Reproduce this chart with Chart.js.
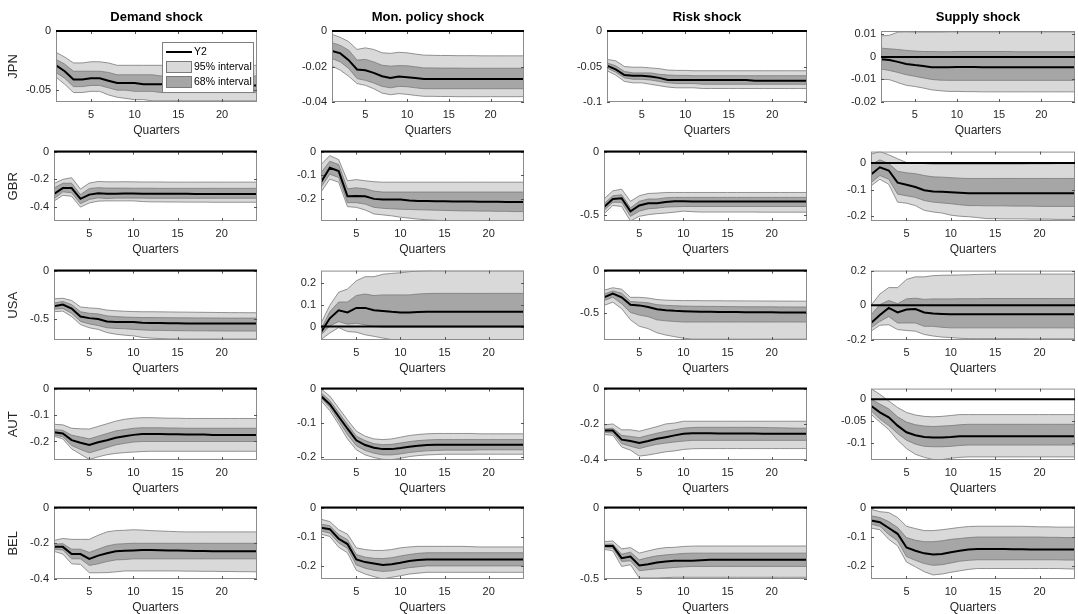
<!DOCTYPE html>
<html>
<head>
<meta charset="utf-8">
<title>Impulse responses of Y2</title>
<script src="https://cdn.jsdelivr.net/npm/chart.js"></script>
<style>
  body { margin: 0; padding: 0; background: #fff; width: 1078px; height: 614px; overflow: hidden; position: relative; }
  canvas { position: absolute; }
</style>
</head>
<body>
<script>
// ---- labels ----
const quarters = [1,2,3,4,5,6,7,8,9,10,11,12,13,14,15,16,17,18,19,20,21,22,23,24];
const xTicks = [5, 10, 15, 20];
const countries = ['JPN', 'GBR', 'USA', 'AUT', 'BEL'];
const shocks = ['Demand shock', 'Mon. policy shock', 'Risk shock', 'Supply shock'];
const legendLabels = ['Y2', '95% interval', '68% interval'];
const xTitle = 'Quarters';

// ---- axis limits and ticks (demand, mon. policy, risk, supply) ----
const JPN_ylim = [[-0.06, 0], [-0.04, 0], [-0.1, 0], [-0.02, 0.0115]];
const GBR_ylim = [[-0.5, 0], [-0.295, 0], [-0.55, 0], [-0.218, 0.043]];
const USA_ylim = [[-0.72, 0], [-0.062, 0.258], [-0.81, 0], [-0.2, 0.2]];
const AUT_ylim = [[-0.27, 0], [-0.21, 0], [-0.4, 0], [-0.138, 0.024]];
const BEL_ylim = [[-0.4, 0], [-0.245, 0], [-0.5, 0], [-0.245, 0]];

const JPN_yticks = [[-0.05, 0], [-0.04, -0.02, 0], [-0.1, -0.05, 0], [-0.02, -0.01, 0, 0.01]];
const GBR_yticks = [[-0.4, -0.2, 0], [-0.2, -0.1, 0], [-0.5, 0], [-0.2, -0.1, 0]];
const USA_yticks = [[-0.5, 0], [0, 0.1, 0.2], [-0.5, 0], [-0.2, 0, 0.2]];
const AUT_yticks = [[-0.2, -0.1, 0], [-0.2, -0.1, 0], [-0.4, -0.2, 0], [-0.1, -0.05, 0]];
const BEL_yticks = [[-0.4, -0.2, 0], [-0.2, -0.1, 0], [-0.5, 0], [-0.2, -0.1, 0]];

// ---- JPN ----
const JPN_dem_med  = [-0.029,-0.034,-0.041,-0.041,-0.040,-0.040, -0.042,-0.044,-0.044,-0.044,-0.045,-0.045, -0.045,-0.045,-0.045,-0.045,-0.045,-0.045, -0.046,-0.046,-0.046,-0.046,-0.046,-0.046];
const JPN_dem_hi95 = [-0.018,-0.022,-0.027,-0.027,-0.026,-0.026, -0.027,-0.029,-0.029,-0.029,-0.029,-0.029, -0.029,-0.029,-0.029,-0.029,-0.029,-0.029, -0.029,-0.029,-0.029,-0.029,-0.029,-0.029];
const JPN_dem_hi68 = [-0.024,-0.028,-0.034,-0.034,-0.034,-0.034, -0.035,-0.037,-0.037,-0.037,-0.037,-0.037, -0.038,-0.038,-0.038,-0.038,-0.038,-0.038, -0.038,-0.038,-0.038,-0.038,-0.038,-0.038];
const JPN_dem_lo68 = [-0.035,-0.040,-0.047,-0.047,-0.046,-0.046, -0.048,-0.050,-0.050,-0.051,-0.051,-0.051, -0.052,-0.052,-0.052,-0.052,-0.052,-0.052, -0.052,-0.052,-0.052,-0.052,-0.052,-0.052];
const JPN_dem_lo95 = [-0.039,-0.045,-0.052,-0.052,-0.051,-0.051, -0.054,-0.056,-0.057,-0.058,-0.058,-0.059, -0.059,-0.059,-0.059,-0.059,-0.059,-0.059, -0.059,-0.059,-0.059,-0.059,-0.059,-0.059];

const JPN_mon_med  = [-0.0112,-0.0126,-0.0164,-0.0217,-0.0221,-0.0236, -0.0255,-0.0265,-0.0257,-0.0260,-0.0265,-0.0270, -0.0270,-0.0270,-0.0270,-0.0270,-0.0270,-0.0270, -0.0270,-0.0270,-0.0270,-0.0270,-0.0270,-0.0270];
const JPN_mon_hi95 = [-0.0019,-0.0036,-0.0060,-0.0104,-0.0095,-0.0104, -0.0123,-0.0126,-0.0120,-0.0123,-0.0130,-0.0136, -0.0137,-0.0138,-0.0138,-0.0139,-0.0139,-0.0139, -0.0140,-0.0140,-0.0140,-0.0140,-0.0140,-0.0140];
const JPN_mon_hi68 = [-0.0066,-0.0081,-0.0108,-0.0164,-0.0160,-0.0174, -0.0193,-0.0198,-0.0195,-0.0196,-0.0202,-0.0208, -0.0208,-0.0209,-0.0209,-0.0209,-0.0210,-0.0210, -0.0210,-0.0210,-0.0210,-0.0210,-0.0210,-0.0210];
const JPN_mon_lo68 = [-0.0155,-0.0174,-0.0211,-0.0268,-0.0278,-0.0293, -0.0312,-0.0320,-0.0312,-0.0314,-0.0320,-0.0325, -0.0325,-0.0325,-0.0325,-0.0325,-0.0325,-0.0325, -0.0325,-0.0325,-0.0325,-0.0325,-0.0325,-0.0325];
const JPN_mon_lo95 = [-0.0198,-0.0221,-0.0255,-0.0296,-0.0306,-0.0325, -0.0350,-0.0359,-0.0353,-0.0357,-0.0363,-0.0368, -0.0368,-0.0369,-0.0369,-0.0370,-0.0370,-0.0370, -0.0370,-0.0370,-0.0370,-0.0370,-0.0370,-0.0370];

const JPN_risk_med  = [-0.049,-0.054,-0.062,-0.063,-0.063,-0.064, -0.066,-0.069,-0.069,-0.069,-0.069,-0.069, -0.069,-0.069,-0.069,-0.069,-0.069,-0.070, -0.070,-0.070,-0.070,-0.070,-0.070,-0.070];
const JPN_risk_hi95 = [-0.040,-0.042,-0.050,-0.051,-0.051,-0.052, -0.053,-0.055,-0.0555,-0.0555,-0.056,-0.056, -0.056,-0.056,-0.056,-0.056,-0.056,-0.056, -0.056,-0.056,-0.056,-0.056,-0.056,-0.056];
const JPN_risk_hi68 = [-0.045,-0.049,-0.057,-0.059,-0.059,-0.059, -0.061,-0.062,-0.0625,-0.0625,-0.063,-0.063, -0.063,-0.063,-0.063,-0.063,-0.063,-0.063, -0.063,-0.063,-0.063,-0.063,-0.063,-0.063];
const JPN_risk_lo68 = [-0.052,-0.058,-0.066,-0.068,-0.068,-0.069, -0.071,-0.073,-0.074,-0.074,-0.074,-0.075, -0.075,-0.075,-0.075,-0.075,-0.075,-0.075, -0.075,-0.075,-0.075,-0.075,-0.075,-0.075];
const JPN_risk_lo95 = [-0.056,-0.062,-0.071,-0.073,-0.073,-0.075, -0.077,-0.079,-0.080,-0.080,-0.080,-0.081, -0.081,-0.081,-0.081,-0.081,-0.081,-0.081, -0.081,-0.081,-0.081,-0.081,-0.081,-0.081];

const JPN_sup_med  = [-0.0010,-0.0014,-0.0022,-0.0031,-0.0036,-0.0040, -0.0046,-0.0046,-0.0046,-0.0045,-0.0045,-0.0045, -0.0046,-0.0046,-0.0046,-0.0046,-0.0046,-0.0046, -0.0046,-0.0046,-0.0046,-0.0046,-0.0046,-0.0046];
const JPN_sup_hi95 = [0.0093,0.0096,0.0110,0.0111,0.0110,0.0110, 0.0110,0.0110,0.0111,0.0111,0.0111,0.0111, 0.0111,0.0111,0.0111,0.0111,0.0111,0.0111, 0.0111,0.0111,0.0111,0.0111,0.0111,0.0111];
const JPN_sup_hi68 = [0.0039,0.0036,0.0033,0.0029,0.0026,0.0024, 0.0024,0.0023,0.0023,0.0024,0.0024,0.0024, 0.0024,0.0024,0.0024,0.0024,0.0023,0.0023, 0.0023,0.0023,0.0023,0.0023,0.0023,0.0023];
const JPN_sup_lo68 = [-0.0054,-0.0060,-0.0069,-0.0079,-0.0086,-0.0093, -0.0100,-0.0103,-0.0104,-0.0104,-0.0104,-0.0104, -0.0104,-0.0104,-0.0104,-0.0104,-0.0104,-0.0104, -0.0104,-0.0104,-0.0104,-0.0104,-0.0104,-0.0104];
const JPN_sup_lo95 = [-0.0099,-0.0101,-0.0114,-0.0126,-0.0131,-0.0138, -0.0146,-0.0150,-0.0153,-0.0153,-0.0154,-0.0154, -0.0155,-0.0155,-0.0155,-0.0155,-0.0155,-0.0155, -0.0155,-0.0155,-0.0155,-0.0155,-0.0155,-0.0155];

// ---- GBR ----
const GBR_dem_med  = [-0.305,-0.263,-0.263,-0.340,-0.310,-0.300, -0.303,-0.303,-0.302,-0.302,-0.303,-0.303, -0.303,-0.304,-0.304,-0.304,-0.305,-0.305, -0.305,-0.305,-0.305,-0.305,-0.305,-0.305];
const GBR_dem_hi95 = [-0.230,-0.200,-0.188,-0.270,-0.227,-0.215, -0.218,-0.218,-0.217,-0.218,-0.219,-0.219, -0.219,-0.220,-0.220,-0.220,-0.220,-0.220, -0.220,-0.220,-0.220,-0.220,-0.220,-0.220];
const GBR_dem_hi68 = [-0.263,-0.228,-0.228,-0.310,-0.266,-0.260, -0.263,-0.263,-0.263,-0.264,-0.264,-0.264, -0.265,-0.265,-0.265,-0.265,-0.265,-0.265, -0.265,-0.265,-0.265,-0.265,-0.265,-0.265];
const GBR_dem_lo68 = [-0.340,-0.290,-0.297,-0.375,-0.345,-0.333, -0.338,-0.335,-0.335,-0.335,-0.335,-0.336, -0.336,-0.336,-0.336,-0.336,-0.336,-0.336, -0.336,-0.336,-0.336,-0.336,-0.336,-0.336];
const GBR_dem_lo95 = [-0.357,-0.315,-0.322,-0.400,-0.370,-0.357, -0.355,-0.355,-0.355,-0.355,-0.360,-0.362, -0.362,-0.363,-0.363,-0.364,-0.364,-0.364, -0.365,-0.365,-0.365,-0.365,-0.365,-0.365];

const GBR_mon_med  = [-0.130,-0.069,-0.083,-0.190,-0.189,-0.190, -0.201,-0.204,-0.204,-0.204,-0.208,-0.210, -0.210,-0.211,-0.211,-0.212,-0.212,-0.212, -0.213,-0.213,-0.213,-0.214,-0.214,-0.214];
const GBR_mon_hi95 = [-0.055,-0.017,-0.034,-0.124,-0.119,-0.124, -0.128,-0.130,-0.130,-0.130,-0.130,-0.130, -0.130,-0.130,-0.130,-0.130,-0.130,-0.130, -0.130,-0.130,-0.130,-0.130,-0.130,-0.130];
const GBR_mon_hi68 = [-0.090,-0.041,-0.055,-0.158,-0.154,-0.158, -0.168,-0.172,-0.172,-0.172,-0.172,-0.172, -0.172,-0.172,-0.172,-0.172,-0.172,-0.172, -0.172,-0.172,-0.172,-0.172,-0.172,-0.172];
const GBR_mon_lo68 = [-0.151,-0.096,-0.110,-0.217,-0.217,-0.223, -0.237,-0.241,-0.243,-0.245,-0.246,-0.247, -0.248,-0.249,-0.250,-0.251,-0.252,-0.252, -0.253,-0.253,-0.254,-0.254,-0.255,-0.255];
const GBR_mon_lo95 = [-0.172,-0.117,-0.130,-0.234,-0.237,-0.248, -0.265,-0.269,-0.273,-0.279,-0.283,-0.287, -0.290,-0.292,-0.293,-0.293,-0.293,-0.293, -0.293,-0.293,-0.293,-0.293,-0.293,-0.293];

const GBR_risk_med  = [-0.440,-0.376,-0.370,-0.474,-0.427,-0.410, -0.410,-0.400,-0.394,-0.394,-0.396,-0.396, -0.396,-0.396,-0.396,-0.396,-0.396,-0.396, -0.396,-0.396,-0.396,-0.396,-0.396,-0.396];
const GBR_risk_hi95 = [-0.376,-0.311,-0.298,-0.394,-0.350,-0.332, -0.329,-0.324,-0.324,-0.324,-0.324,-0.324, -0.324,-0.324,-0.324,-0.324,-0.324,-0.324, -0.324,-0.324,-0.324,-0.324,-0.324,-0.324];
const GBR_risk_hi68 = [-0.414,-0.350,-0.342,-0.446,-0.394,-0.376, -0.376,-0.366,-0.363,-0.363,-0.363,-0.363, -0.363,-0.363,-0.363,-0.363,-0.363,-0.363, -0.363,-0.363,-0.363,-0.363,-0.363,-0.363];
const GBR_risk_lo68 = [-0.466,-0.402,-0.402,-0.513,-0.472,-0.453, -0.448,-0.440,-0.437,-0.435,-0.435,-0.435, -0.435,-0.435,-0.435,-0.435,-0.435,-0.435, -0.435,-0.435,-0.435,-0.435,-0.435,-0.435];
const GBR_risk_lo95 = [-0.492,-0.427,-0.435,-0.550,-0.513,-0.500, -0.492,-0.487,-0.480,-0.472,-0.476,-0.479, -0.479,-0.479,-0.479,-0.479,-0.479,-0.479, -0.480,-0.480,-0.480,-0.480,-0.480,-0.480];

const GBR_sup_med  = [-0.043,-0.016,-0.028,-0.074,-0.082,-0.090, -0.102,-0.107,-0.108,-0.110,-0.112,-0.114, -0.114,-0.114,-0.114,-0.114,-0.114,-0.114, -0.114,-0.114,-0.114,-0.114,-0.114,-0.114];
const GBR_sup_hi95 = [0.033,0.043,0.031,0.016,0.002,0.000, -0.002,-0.004,-0.004,-0.004,-0.004,-0.004, -0.004,-0.004,-0.004,-0.004,-0.004,-0.004, -0.003,-0.003,-0.003,-0.002,-0.002,-0.002];
const GBR_sup_hi68 = [-0.006,0.012,-0.002,-0.031,-0.037,-0.040, -0.047,-0.052,-0.053,-0.055,-0.057,-0.058, -0.058,-0.058,-0.058,-0.058,-0.058,-0.058, -0.058,-0.058,-0.058,-0.058,-0.058,-0.058];
const GBR_sup_lo68 = [-0.074,-0.047,-0.061,-0.117,-0.123,-0.129, -0.141,-0.147,-0.150,-0.153,-0.157,-0.160, -0.160,-0.161,-0.161,-0.161,-0.162,-0.162, -0.162,-0.163,-0.163,-0.163,-0.163,-0.163];
const GBR_sup_lo95 = [-0.086,-0.061,-0.080,-0.147,-0.151,-0.160, -0.178,-0.184,-0.188,-0.196,-0.200,-0.202, -0.205,-0.209,-0.209,-0.210,-0.210,-0.210, -0.211,-0.211,-0.211,-0.212,-0.212,-0.212];

// ---- USA ----
const USA_dem_med  = [-0.370,-0.353,-0.393,-0.477,-0.493,-0.503, -0.527,-0.533,-0.533,-0.533,-0.540,-0.543, -0.543,-0.545,-0.546,-0.548,-0.549,-0.550, -0.550,-0.550,-0.550,-0.550,-0.550,-0.550];
const USA_dem_hi95 = [-0.293,-0.287,-0.310,-0.377,-0.387,-0.393, -0.410,-0.417,-0.422,-0.425,-0.427,-0.427, -0.428,-0.429,-0.430,-0.431,-0.432,-0.433, -0.434,-0.435,-0.436,-0.436,-0.437,-0.437];
const USA_dem_hi68 = [-0.337,-0.320,-0.353,-0.427,-0.443,-0.450, -0.470,-0.477,-0.482,-0.485,-0.487,-0.487, -0.488,-0.489,-0.490,-0.490,-0.491,-0.491, -0.492,-0.492,-0.493,-0.493,-0.493,-0.493];
const USA_dem_lo68 = [-0.400,-0.393,-0.443,-0.527,-0.553,-0.570, -0.593,-0.600,-0.603,-0.610,-0.615,-0.620, -0.620,-0.622,-0.623,-0.624,-0.625,-0.625, -0.626,-0.626,-0.627,-0.627,-0.627,-0.627];
const USA_dem_lo95 = [-0.427,-0.420,-0.477,-0.560,-0.593,-0.610, -0.643,-0.660,-0.670,-0.677,-0.693,-0.700, -0.705,-0.708,-0.710,-0.710,-0.710,-0.710, -0.710,-0.710,-0.710,-0.710,-0.710,-0.710];

const USA_mon_med  = [-0.026,0.038,0.075,0.065,0.086,0.086, 0.075,0.072,0.068,0.065,0.065,0.067, 0.068,0.068,0.068,0.068,0.068,0.068, 0.068,0.068,0.068,0.068,0.068,0.068];
const USA_mon_hi95 = [0.015,0.098,0.158,0.173,0.211,0.230, 0.230,0.241,0.245,0.248,0.253,0.256, 0.258,0.259,0.260,0.260,0.260,0.260, 0.260,0.260,0.260,0.260,0.260,0.260];
const USA_mon_hi68 = [-0.011,0.068,0.113,0.113,0.143,0.150, 0.143,0.146,0.146,0.146,0.146,0.150, 0.152,0.153,0.153,0.153,0.153,0.153, 0.153,0.153,0.153,0.153,0.153,0.153];
const USA_mon_lo68 = [-0.038,0.003,0.023,0.011,0.015,0.008, 0.000,-0.003,-0.003,-0.003,-0.003,-0.003, -0.003,-0.003,-0.003,-0.003,-0.003,-0.003, -0.003,-0.003,-0.003,-0.003,-0.003,-0.003];
const USA_mon_lo95 = [-0.060,-0.030,-0.005,-0.023,-0.026,-0.038, -0.045,-0.053,-0.060,-0.063,-0.063,-0.063, -0.063,-0.063,-0.063,-0.063,-0.063,-0.063, -0.063,-0.063,-0.063,-0.063,-0.063,-0.063];

const USA_risk_med  = [-0.312,-0.267,-0.312,-0.398,-0.406,-0.425, -0.451,-0.462,-0.470,-0.475,-0.478,-0.480, -0.481,-0.482,-0.483,-0.484,-0.485,-0.486, -0.487,-0.487,-0.488,-0.488,-0.489,-0.489];
const USA_risk_hi95 = [-0.229,-0.200,-0.218,-0.312,-0.312,-0.320, -0.338,-0.345,-0.348,-0.350,-0.350,-0.351, -0.352,-0.352,-0.353,-0.353,-0.354,-0.354, -0.355,-0.355,-0.356,-0.356,-0.357,-0.357];
const USA_risk_hi68 = [-0.274,-0.237,-0.263,-0.361,-0.368,-0.376, -0.398,-0.406,-0.410,-0.414,-0.416,-0.417, -0.418,-0.419,-0.420,-0.421,-0.422,-0.422, -0.423,-0.423,-0.424,-0.424,-0.425,-0.425];
const USA_risk_lo68 = [-0.350,-0.312,-0.387,-0.489,-0.519,-0.538, -0.575,-0.586,-0.594,-0.600,-0.600,-0.600, -0.600,-0.600,-0.600,-0.600,-0.600,-0.600, -0.600,-0.600,-0.600,-0.600,-0.600,-0.600];
const USA_risk_lo95 = [-0.406,-0.368,-0.444,-0.575,-0.650,-0.677, -0.726,-0.752,-0.771,-0.789,-0.800,-0.800, -0.800,-0.800,-0.800,-0.800,-0.800,-0.800, -0.800,-0.800,-0.800,-0.800,-0.800,-0.800];

const USA_sup_med  = [-0.102,-0.056,-0.015,-0.041,-0.024,-0.022, -0.041,-0.047,-0.050,-0.052,-0.052,-0.052, -0.052,-0.052,-0.052,-0.052,-0.052,-0.052, -0.052,-0.052,-0.052,-0.052,-0.052,-0.052];
const USA_sup_hi95 = [0.000,0.065,0.102,0.102,0.149,0.164, 0.164,0.171,0.173,0.174,0.175,0.176, 0.178,0.179,0.180,0.180,0.180,0.180, 0.180,0.180,0.180,0.180,0.180,0.180];
const USA_sup_hi68 = [-0.056,0.004,0.028,0.009,0.037,0.041, 0.034,0.037,0.037,0.037,0.038,0.038, 0.038,0.039,0.039,0.039,0.039,0.039, 0.039,0.039,0.039,0.039,0.039,0.039];
const USA_sup_lo68 = [-0.130,-0.093,-0.065,-0.102,-0.102,-0.102, -0.121,-0.121,-0.127,-0.130,-0.130,-0.130, -0.130,-0.130,-0.130,-0.130,-0.130,-0.130, -0.130,-0.130,-0.130,-0.130,-0.130,-0.130];
const USA_sup_lo95 = [-0.149,-0.115,-0.112,-0.140,-0.145,-0.149, -0.168,-0.177,-0.183,-0.186,-0.190,-0.192, -0.192,-0.192,-0.192,-0.192,-0.192,-0.192, -0.193,-0.193,-0.193,-0.193,-0.193,-0.193];

// ---- AUT ----
const AUT_dem_med  = [-0.165,-0.170,-0.195,-0.205,-0.213,-0.203, -0.195,-0.186,-0.180,-0.175,-0.172,-0.172, -0.172,-0.173,-0.173,-0.174,-0.174,-0.174, -0.175,-0.175,-0.175,-0.175,-0.175,-0.175];
const AUT_dem_hi95 = [-0.135,-0.137,-0.150,-0.152,-0.153,-0.143, -0.133,-0.123,-0.116,-0.112,-0.110,-0.110, -0.111,-0.112,-0.112,-0.113,-0.113,-0.113, -0.113,-0.113,-0.113,-0.113,-0.113,-0.113];
const AUT_dem_hi68 = [-0.155,-0.158,-0.176,-0.183,-0.190,-0.180, -0.170,-0.160,-0.155,-0.150,-0.148,-0.148, -0.148,-0.149,-0.149,-0.150,-0.150,-0.150, -0.150,-0.150,-0.150,-0.150,-0.150,-0.150];
const AUT_dem_lo68 = [-0.175,-0.182,-0.215,-0.230,-0.243,-0.233, -0.223,-0.213,-0.207,-0.202,-0.200,-0.200, -0.200,-0.200,-0.200,-0.200,-0.200,-0.200, -0.200,-0.200,-0.200,-0.200,-0.200,-0.200];
const AUT_dem_lo95 = [-0.180,-0.190,-0.228,-0.248,-0.268,-0.258, -0.250,-0.245,-0.242,-0.240,-0.238,-0.237, -0.237,-0.237,-0.237,-0.237,-0.237,-0.237, -0.237,-0.237,-0.237,-0.237,-0.237,-0.237];

const AUT_mon_med  = [-0.022,-0.046,-0.082,-0.118,-0.152,-0.166, -0.174,-0.178,-0.178,-0.175,-0.171,-0.168, -0.166,-0.165,-0.165,-0.165,-0.165,-0.165, -0.165,-0.165,-0.165,-0.165,-0.165,-0.165];
const AUT_mon_hi95 = [-0.001,-0.022,-0.057,-0.092,-0.125,-0.140, -0.148,-0.150,-0.148,-0.143,-0.138,-0.135, -0.133,-0.132,-0.132,-0.132,-0.132,-0.132, -0.133,-0.133,-0.133,-0.133,-0.133,-0.133];
const AUT_mon_hi68 = [-0.012,-0.035,-0.070,-0.105,-0.140,-0.153, -0.162,-0.165,-0.164,-0.160,-0.156,-0.153, -0.151,-0.150,-0.150,-0.150,-0.150,-0.150, -0.150,-0.150,-0.150,-0.150,-0.150,-0.150];
const AUT_mon_lo68 = [-0.028,-0.055,-0.095,-0.135,-0.168,-0.182, -0.190,-0.195,-0.195,-0.192,-0.188,-0.185, -0.183,-0.182,-0.181,-0.181,-0.181,-0.181, -0.180,-0.180,-0.180,-0.180,-0.180,-0.180];
const AUT_mon_lo95 = [-0.035,-0.065,-0.105,-0.148,-0.180,-0.195, -0.203,-0.208,-0.209,-0.205,-0.200,-0.197, -0.195,-0.194,-0.193,-0.193,-0.193,-0.193, -0.193,-0.193,-0.193,-0.193,-0.193,-0.193];

const AUT_risk_med  = [-0.235,-0.235,-0.286,-0.294,-0.305,-0.294, -0.281,-0.272,-0.262,-0.253,-0.250,-0.250, -0.250,-0.251,-0.251,-0.252,-0.252,-0.252, -0.253,-0.253,-0.253,-0.253,-0.253,-0.253];
const AUT_risk_hi95 = [-0.204,-0.198,-0.231,-0.231,-0.239,-0.226, -0.213,-0.198,-0.193,-0.183,-0.183,-0.183, -0.183,-0.183,-0.183,-0.183,-0.183,-0.183, -0.183,-0.183,-0.183,-0.183,-0.183,-0.183];
const AUT_risk_hi68 = [-0.226,-0.222,-0.262,-0.268,-0.275,-0.262, -0.250,-0.239,-0.231,-0.222,-0.218,-0.217, -0.217,-0.217,-0.217,-0.217,-0.217,-0.217, -0.218,-0.219,-0.220,-0.221,-0.222,-0.222];
const AUT_risk_lo68 = [-0.244,-0.250,-0.308,-0.323,-0.336,-0.323, -0.312,-0.305,-0.299,-0.294,-0.290,-0.290, -0.290,-0.290,-0.290,-0.290,-0.290,-0.290, -0.290,-0.290,-0.290,-0.290,-0.290,-0.290];
const AUT_risk_lo95 = [-0.257,-0.262,-0.327,-0.345,-0.378,-0.372, -0.363,-0.354,-0.349,-0.341,-0.337,-0.336, -0.336,-0.336,-0.336,-0.336,-0.336,-0.336, -0.336,-0.336,-0.336,-0.336,-0.336,-0.336];

const AUT_sup_med  = [-0.015,-0.030,-0.041,-0.060,-0.075,-0.082, -0.086,-0.087,-0.087,-0.086,-0.084,-0.084, -0.084,-0.084,-0.084,-0.084,-0.084,-0.084, -0.084,-0.084,-0.084,-0.084,-0.084,-0.084];
const AUT_sup_hi95 = [0.024,0.011,-0.004,-0.019,-0.030,-0.036, -0.039,-0.040,-0.039,-0.037,-0.035,-0.035, -0.035,-0.035,-0.035,-0.035,-0.035,-0.035, -0.035,-0.035,-0.035,-0.035,-0.035,-0.035];
const AUT_sup_hi68 = [0.000,-0.011,-0.022,-0.040,-0.052,-0.058, -0.061,-0.062,-0.061,-0.060,-0.058,-0.057, -0.057,-0.057,-0.057,-0.057,-0.057,-0.057, -0.057,-0.057,-0.057,-0.057,-0.057,-0.057];
const AUT_sup_lo68 = [-0.026,-0.045,-0.060,-0.078,-0.093,-0.102, -0.107,-0.108,-0.108,-0.107,-0.105,-0.104, -0.104,-0.104,-0.104,-0.104,-0.104,-0.104, -0.104,-0.104,-0.104,-0.104,-0.104,-0.104];
const AUT_sup_lo95 = [-0.034,-0.052,-0.069,-0.093,-0.112,-0.125, -0.132,-0.137,-0.137,-0.134,-0.132,-0.131, -0.131,-0.131,-0.131,-0.131,-0.131,-0.131, -0.131,-0.131,-0.131,-0.131,-0.131,-0.131];

// ---- BEL ----
const BEL_dem_med  = [-0.220,-0.220,-0.260,-0.260,-0.287,-0.269, -0.256,-0.245,-0.242,-0.240,-0.238,-0.238, -0.239,-0.240,-0.241,-0.242,-0.243,-0.243, -0.244,-0.244,-0.245,-0.245,-0.245,-0.245];
const BEL_dem_hi95 = [-0.184,-0.173,-0.178,-0.178,-0.178,-0.155, -0.136,-0.129,-0.127,-0.124,-0.126,-0.129, -0.131,-0.133,-0.135,-0.136,-0.136,-0.136, -0.136,-0.136,-0.136,-0.136,-0.136,-0.136];
const BEL_dem_hi68 = [-0.205,-0.202,-0.233,-0.233,-0.251,-0.233, -0.215,-0.205,-0.202,-0.200,-0.200,-0.200, -0.200,-0.200,-0.200,-0.200,-0.200,-0.200, -0.200,-0.200,-0.200,-0.200,-0.200,-0.200];
const BEL_dem_lo68 = [-0.233,-0.238,-0.287,-0.287,-0.324,-0.315, -0.302,-0.293,-0.291,-0.287,-0.287,-0.287, -0.287,-0.287,-0.287,-0.287,-0.287,-0.287, -0.287,-0.287,-0.287,-0.287,-0.287,-0.287];
const BEL_dem_lo95 = [-0.245,-0.260,-0.315,-0.318,-0.365,-0.365, -0.364,-0.360,-0.355,-0.355,-0.355,-0.355, -0.355,-0.355,-0.355,-0.356,-0.356,-0.357, -0.357,-0.358,-0.358,-0.359,-0.359,-0.360];

const BEL_mon_med  = [-0.069,-0.074,-0.107,-0.125,-0.178,-0.187, -0.192,-0.197,-0.194,-0.189,-0.183,-0.180, -0.178,-0.178,-0.178,-0.178,-0.178,-0.178, -0.178,-0.178,-0.178,-0.178,-0.178,-0.178];
const BEL_mon_hi95 = [-0.040,-0.048,-0.076,-0.091,-0.138,-0.144, -0.147,-0.147,-0.144,-0.138,-0.135,-0.133, -0.133,-0.133,-0.133,-0.133,-0.133,-0.134, -0.135,-0.135,-0.135,-0.135,-0.135,-0.135];
const BEL_mon_hi68 = [-0.057,-0.062,-0.093,-0.110,-0.161,-0.170, -0.174,-0.175,-0.172,-0.166,-0.161,-0.157, -0.155,-0.155,-0.155,-0.155,-0.155,-0.155, -0.155,-0.155,-0.155,-0.155,-0.155,-0.155];
const BEL_mon_lo68 = [-0.080,-0.088,-0.121,-0.140,-0.197,-0.208, -0.215,-0.219,-0.217,-0.211,-0.206,-0.203, -0.200,-0.200,-0.200,-0.200,-0.200,-0.200, -0.200,-0.200,-0.200,-0.200,-0.200,-0.200];
const BEL_mon_lo95 = [-0.091,-0.099,-0.136,-0.155,-0.215,-0.228, -0.237,-0.245,-0.239,-0.234,-0.228,-0.225, -0.222,-0.222,-0.222,-0.222,-0.222,-0.222, -0.222,-0.222,-0.222,-0.222,-0.222,-0.222];

const BEL_risk_med  = [-0.269,-0.269,-0.354,-0.343,-0.405,-0.396, -0.384,-0.377,-0.373,-0.373,-0.372,-0.368, -0.366,-0.366,-0.366,-0.366,-0.366,-0.366, -0.366,-0.366,-0.366,-0.366,-0.366,-0.366];
const BEL_risk_hi95 = [-0.238,-0.234,-0.289,-0.280,-0.319,-0.303, -0.289,-0.280,-0.278,-0.272,-0.270,-0.269, -0.269,-0.269,-0.269,-0.269,-0.269,-0.269, -0.269,-0.269,-0.269,-0.269,-0.269,-0.269];
const BEL_risk_hi68 = [-0.257,-0.255,-0.326,-0.312,-0.366,-0.350, -0.338,-0.331,-0.326,-0.321,-0.319,-0.319, -0.319,-0.319,-0.319,-0.319,-0.319,-0.319, -0.319,-0.319,-0.319,-0.319,-0.319,-0.319];
const BEL_risk_lo68 = [-0.280,-0.285,-0.377,-0.373,-0.442,-0.435, -0.428,-0.424,-0.419,-0.415,-0.412,-0.412, -0.412,-0.412,-0.412,-0.412,-0.412,-0.412, -0.412,-0.412,-0.412,-0.412,-0.412,-0.412];
const BEL_risk_lo95 = [-0.292,-0.303,-0.412,-0.400,-0.493,-0.493, -0.493,-0.490,-0.488,-0.488,-0.488,-0.488, -0.488,-0.488,-0.488,-0.488,-0.488,-0.488, -0.488,-0.488,-0.488,-0.488,-0.488,-0.488];

const BEL_sup_med  = [-0.044,-0.050,-0.070,-0.090,-0.137,-0.148, -0.157,-0.161,-0.159,-0.153,-0.148,-0.144, -0.142,-0.142,-0.142,-0.142,-0.143,-0.143, -0.144,-0.144,-0.144,-0.144,-0.144,-0.144];
const BEL_sup_hi95 = [-0.006,-0.014,-0.017,-0.034,-0.064,-0.072, -0.079,-0.079,-0.076,-0.072,-0.068,-0.065, -0.064,-0.064,-0.064,-0.064,-0.064,-0.064, -0.065,-0.066,-0.066,-0.067,-0.067,-0.067];
const BEL_sup_hi68 = [-0.028,-0.034,-0.048,-0.068,-0.103,-0.112, -0.117,-0.117,-0.114,-0.109,-0.106,-0.103, -0.101,-0.101,-0.101,-0.101,-0.101,-0.101, -0.101,-0.101,-0.102,-0.102,-0.103,-0.103];
const BEL_sup_lo68 = [-0.057,-0.064,-0.092,-0.114,-0.168,-0.181, -0.192,-0.198,-0.196,-0.190,-0.184,-0.181, -0.179,-0.179,-0.179,-0.179,-0.179,-0.179, -0.179,-0.179,-0.179,-0.179,-0.180,-0.180];
const BEL_sup_lo95 = [-0.070,-0.076,-0.109,-0.131,-0.187,-0.203, -0.220,-0.231,-0.228,-0.222,-0.217,-0.212, -0.209,-0.209,-0.209,-0.209,-0.209,-0.209, -0.209,-0.209,-0.209,-0.209,-0.210,-0.211];

// ---- table built from the arrays above: [lo95, hi95, lo68, hi68, median] ----
const panelSeries = [
  [[JPN_dem_lo95, JPN_dem_hi95, JPN_dem_lo68, JPN_dem_hi68, JPN_dem_med],
   [JPN_mon_lo95, JPN_mon_hi95, JPN_mon_lo68, JPN_mon_hi68, JPN_mon_med],
   [JPN_risk_lo95, JPN_risk_hi95, JPN_risk_lo68, JPN_risk_hi68, JPN_risk_med],
   [JPN_sup_lo95, JPN_sup_hi95, JPN_sup_lo68, JPN_sup_hi68, JPN_sup_med]],
  [[GBR_dem_lo95, GBR_dem_hi95, GBR_dem_lo68, GBR_dem_hi68, GBR_dem_med],
   [GBR_mon_lo95, GBR_mon_hi95, GBR_mon_lo68, GBR_mon_hi68, GBR_mon_med],
   [GBR_risk_lo95, GBR_risk_hi95, GBR_risk_lo68, GBR_risk_hi68, GBR_risk_med],
   [GBR_sup_lo95, GBR_sup_hi95, GBR_sup_lo68, GBR_sup_hi68, GBR_sup_med]],
  [[USA_dem_lo95, USA_dem_hi95, USA_dem_lo68, USA_dem_hi68, USA_dem_med],
   [USA_mon_lo95, USA_mon_hi95, USA_mon_lo68, USA_mon_hi68, USA_mon_med],
   [USA_risk_lo95, USA_risk_hi95, USA_risk_lo68, USA_risk_hi68, USA_risk_med],
   [USA_sup_lo95, USA_sup_hi95, USA_sup_lo68, USA_sup_hi68, USA_sup_med]],
  [[AUT_dem_lo95, AUT_dem_hi95, AUT_dem_lo68, AUT_dem_hi68, AUT_dem_med],
   [AUT_mon_lo95, AUT_mon_hi95, AUT_mon_lo68, AUT_mon_hi68, AUT_mon_med],
   [AUT_risk_lo95, AUT_risk_hi95, AUT_risk_lo68, AUT_risk_hi68, AUT_risk_med],
   [AUT_sup_lo95, AUT_sup_hi95, AUT_sup_lo68, AUT_sup_hi68, AUT_sup_med]],
  [[BEL_dem_lo95, BEL_dem_hi95, BEL_dem_lo68, BEL_dem_hi68, BEL_dem_med],
   [BEL_mon_lo95, BEL_mon_hi95, BEL_mon_lo68, BEL_mon_hi68, BEL_mon_med],
   [BEL_risk_lo95, BEL_risk_hi95, BEL_risk_lo68, BEL_risk_hi68, BEL_risk_med],
   [BEL_sup_lo95, BEL_sup_hi95, BEL_sup_lo68, BEL_sup_hi68, BEL_sup_med]]
];
const panelYlim = [JPN_ylim, GBR_ylim, USA_ylim, AUT_ylim, BEL_ylim];
const panelYticks = [JPN_yticks, GBR_yticks, USA_yticks, AUT_yticks, BEL_yticks];

// ---- layout (pixel boxes of the plot areas) ----
const plotTop = [31, 150, 269, 387, 506];
const plotBottom = [102, 221, 340, 460, 579];
const plotRight = [257, 524, 807, 1075];
const plotLeft = [
  [56, 332, 607, 881],
  [54, 321, 604, 871],
  [54, 321, 604, 871],
  [54, 321, 604, 871],
  [54, 321, 604, 871]
];
const canvasLeft = [0, 268, 545, 812];

const FONT = '"Liberation Sans", Arial, Helvetica, sans-serif';
const TEXT = '#262626';
const FILL95 = '#d9d9d9';
const FILL68 = '#a6a6a6';
const EDGE = '#7a7a7a';

Chart.defaults.font.family = FONT;
Chart.defaults.color = TEXT;

// box, inward tick marks and the zero line
const framePlugin = {
  id: 'frame',
  afterDatasetsDraw(chart) {
    const { ctx, chartArea: a, scales: { x, y } } = chart;
    ctx.save();
    ctx.strokeStyle = '#8c8c8c';
    ctx.lineWidth = 1;
    ctx.strokeRect(a.left + 0.5, a.top + 0.5, a.width - 1, a.height - 1);
    ctx.strokeStyle = '#555';
    ctx.beginPath();
    x.ticks.forEach(t => {
      const px = Math.round(x.getPixelForValue(t.value)) + 0.5;
      ctx.moveTo(px, a.bottom); ctx.lineTo(px, a.bottom - 3);
      ctx.moveTo(px, a.top); ctx.lineTo(px, a.top + 3);
    });
    y.ticks.forEach(t => {
      const py = Math.round(y.getPixelForValue(t.value)) + 0.5;
      ctx.moveTo(a.left, py); ctx.lineTo(a.left + 3, py);
      ctx.moveTo(a.right, py); ctx.lineTo(a.right - 3, py);
    });
    ctx.stroke();
    const y0 = y.getPixelForValue(0);
    if (y0 >= a.top - 1 && y0 <= a.bottom + 1) {
      ctx.strokeStyle = '#000';
      ctx.lineWidth = 2;
      ctx.beginPath();
      ctx.moveTo(a.left, y0); ctx.lineTo(a.right, y0);
      ctx.stroke();
    }
    ctx.restore();
  }
};

// legend box drawn inside the first panel
const legendPlugin = {
  id: 'insideLegend',
  afterDraw(chart) {
    const { ctx, chartArea: a } = chart;
    const w = 92, h = 51;
    const left = a.right - 3 - w, top = a.top + 11;
    ctx.save();
    ctx.fillStyle = '#fff';
    ctx.fillRect(left, top, w, h);
    ctx.strokeStyle = '#7f7f7f';
    ctx.lineWidth = 1;
    ctx.strokeRect(left + 0.5, top + 0.5, w - 1, h - 1);
    const rows = [top + 10, top + 25, top + 40];
    // median line
    ctx.strokeStyle = '#000';
    ctx.lineWidth = 2;
    ctx.beginPath();
    ctx.moveTo(left + 4, rows[0]); ctx.lineTo(left + 30, rows[0]);
    ctx.stroke();
    // band patches
    [FILL95, FILL68].forEach((col, i) => {
      const yy = rows[i + 1];
      ctx.fillStyle = col;
      ctx.fillRect(left + 4, yy - 6, 26, 12);
      ctx.strokeStyle = EDGE;
      ctx.lineWidth = 1;
      ctx.strokeRect(left + 4.5, yy - 5.5, 25, 11);
    });
    ctx.fillStyle = '#000';
    ctx.font = '10.5px ' + FONT;
    ctx.textBaseline = 'middle';
    legendLabels.forEach((lab, i) => ctx.fillText(lab, left + 32, rows[i] + 0.5));
    ctx.restore();
  }
};

countries.forEach((country, r) => {
  shocks.forEach((shock, c) => {
    const [lo95, hi95, lo68, hi68, med] = panelSeries[r][c];
    const [yMin, yMax] = panelYlim[r][c];
    const yTicks = panelYticks[r][c];
    const left = canvasLeft[c];
    const top = r === 0 ? 0 : plotTop[r] - 10;
    const width = plotRight[c] + 3 - left;
    const height = plotBottom[r] + 36 - top;
    const yAxisWidth = plotLeft[r][c] - left;

    const cv = document.createElement('canvas');
    cv.width = width; cv.height = height;
    cv.style.left = left + 'px'; cv.style.top = top + 'px';
    cv.style.width = width + 'px'; cv.style.height = height + 'px';
    document.body.appendChild(cv);

    const band = (data, fill, bg, order) => ({
      data, fill, backgroundColor: bg, borderColor: EDGE, borderWidth: 0.8,
      pointRadius: 0, tension: 0, order
    });

    new Chart(cv, {
      type: 'line',
      data: {
        labels: quarters,
        datasets: [
          band(lo95, false, FILL95, 3),
          band(hi95, '-1', FILL95, 3),
          band(lo68, false, FILL68, 2),
          band(hi68, '-1', FILL68, 2),
          { data: med, fill: false, borderColor: '#000', borderWidth: 2, pointRadius: 0, tension: 0, order: 1 }
        ]
      },
      options: {
        responsive: false,
        animation: false,
        devicePixelRatio: 1,
        layout: { padding: { top: r === 0 ? 0 : 10, right: 3, left: 0, bottom: 0 } },
        plugins: {
          legend: { display: false },
          tooltip: { enabled: false },
          title: {
            display: r === 0,
            text: shock,
            fullSize: false,
            color: '#000',
            font: { size: 13, weight: 'bold', lineHeight: '15px' },
            padding: { top: 10, bottom: 6 }
          }
        },
        scales: {
          x: {
            type: 'linear',
            min: 1, max: 24,
            afterBuildTicks: s => { s.ticks = xTicks.map(v => ({ value: v })); },
            afterFit: s => { s.height = 36; },
            grid: { display: false, drawTicks: false },
            border: { display: false },
            ticks: { autoSkip: false, maxRotation: 0, padding: 6, font: { size: 11 }, color: TEXT, callback: v => String(v) },
            title: { display: true, text: xTitle, color: TEXT, font: { size: 12, lineHeight: '14px' }, padding: 0 }
          },
          y: {
            type: 'linear',
            min: yMin, max: yMax,
            afterBuildTicks: s => { s.ticks = yTicks.map(v => ({ value: v })); },
            afterFit: s => { s.width = yAxisWidth; },
            grid: { display: false, drawTicks: false },
            border: { display: false },
            ticks: { autoSkip: false, padding: 5, font: { size: 11 }, color: TEXT, callback: v => String(v) },
            title: { display: c === 0, text: country, color: TEXT, font: { size: 13, lineHeight: '15px' }, padding: { top: 6 } }
          }
        }
      },
      plugins: r === 0 && c === 0 ? [framePlugin, legendPlugin] : [framePlugin]
    });
  });
});
</script>
</body>
</html>
